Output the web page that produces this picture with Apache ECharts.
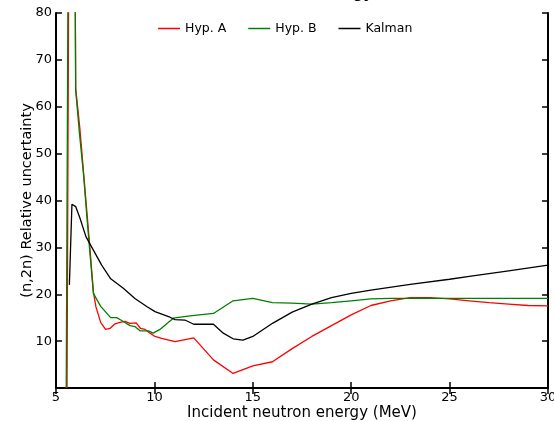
<!DOCTYPE html>
<html>
<head>
<meta charset="utf-8">
<script src="https://cdn.jsdelivr.net/npm/echarts@6/dist/echarts.min.js"></script>
<style>html,body{margin:0;padding:0;background:#fff}#c{width:554px;height:421px}</style>
</head>
<body>
<div id="c"></div>
<script>
const xTicks = [5, 10, 15, 20, 25, 30];
const yTicks = [10, 20, 30, 40, 50, 60, 70, 80];
const seriesNames = ['Hyp. A', 'Hyp. B', 'Kalman'];

const hypA = [[5.56,0],[5.8,250],[6.0,64],[6.22,55],[6.39,46.5],[6.56,38],[6.73,29.5],[6.9,20.5],[7.03,17.3],[7.27,14.0],[7.52,12.5],[7.74,12.7],[8.0,13.7],[8.25,14.0],[8.51,14.2],[8.76,13.8],[9.07,13.9],[9.3,12.7],[9.52,12.5],[9.78,11.7],[10.03,11.0],[10.37,10.6],[11.05,9.9],[12.0,10.7],[13.0,6.0],[14.0,3.1],[15.0,4.7],[16.0,5.6],[17.0,8.4],[18.0,11.0],[19.0,13.3],[20.0,15.6],[21.0,17.6],[22.0,18.6],[23.0,19.3],[24.0,19.3],[25.0,19.0],[26.0,18.6],[27.0,18.2],[28.0,17.9],[29.0,17.6],[30.0,17.5]];

const hypB = [[5.52,0],[5.78,250],[6.0,63.5],[6.2,54],[6.4,45.5],[6.56,37],[6.73,28.5],[6.9,20.2],[7.27,17.4],[7.78,15.0],[8.08,15.0],[8.34,14.4],[8.76,13.3],[9.01,13.1],[9.27,12.2],[9.69,12.2],[9.94,11.7],[10.28,12.5],[10.96,14.9],[11.8,15.4],[13.0,15.9],[14.0,18.6],[15.0,19.1],[16.0,18.2],[17.0,18.1],[18.0,17.9],[19.0,18.2],[20.0,18.6],[21.0,19.0],[22.0,19.1],[23.0,19.1],[24.0,19.1],[25.0,19.1],[26.0,19.1],[27.0,19.1],[28.0,19.1],[29.0,19.1],[30.0,19.1]];

const kalman = [[5.68,22],[5.81,39.2],[6.0,38.7],[6.22,36.2],[6.52,32.3],[6.9,29.4],[7.32,26.2],[7.78,23.3],[8.42,21.3],[9.01,19.1],[9.61,17.4],[10.03,16.3],[10.79,15.1],[11.05,14.6],[11.55,14.5],[12.0,13.6],[13.0,13.6],[13.5,11.7],[14.0,10.5],[14.5,10.2],[15.0,11.0],[16.0,13.8],[17.0,16.2],[18.0,17.9],[19.0,19.3],[20.0,20.2],[21.0,20.9],[23.0,22.1],[25.0,23.2],[26.0,23.8],[28.0,25.0],[30.0,26.2]];

const font = 'DejaVu Sans';
const chart = echarts.init(document.getElementById('c'), null, {renderer: 'canvas'});
const axisLine = {show: true, lineStyle: {color: '#000', width: 2}};
const tick = {show: true, inside: true, length: 6, lineStyle: {color: '#000', width: 1.5}};
chart.setOption({
  animation: false,
  backgroundColor: '#fff',
  title: {text: 'Incident Energy', left: 243, top: -18, textStyle: {fontFamily: font, fontSize: 14, fontWeight: 'bold', color: '#000'}},
  grid: {left: 56, right: 6, top: 13, bottom: 33, containLabel: false, outerBoundsMode: 'none'},
  legend: {
    data: seriesNames, left: 153, top: 17, itemWidth: 22, itemHeight: 1.5, itemGap: 22, icon: 'rect',
    textStyle: {fontFamily: font, fontSize: 12.5, color: '#000'}
  },
  xAxis: [{
    type: 'value', min: 5, max: 30, interval: 5, position: 'bottom',
    name: 'Incident neutron energy (MeV)', nameLocation: 'middle', nameGap: 18, nameMoveOverlap: false,
    nameTextStyle: {fontFamily: font, fontSize: 15, color: '#000'},
    axisLine: axisLine, axisTick: tick, splitLine: {show: false},
    axisLabel: {fontFamily: font, fontSize: 13, color: '#000', margin: 3, customValues: xTicks}
  }, {
    type: 'value', min: 5, max: 30, interval: 5, position: 'top',
    axisLine: axisLine, axisTick: tick, splitLine: {show: false}, axisLabel: {show: false}
  }],
  yAxis: [{
    type: 'value', min: 0, max: 80, interval: 10, position: 'left',
    name: '(n,2n) Relative uncertainty', nameLocation: 'middle', nameGap: 21, nameMoveOverlap: false,
    nameTextStyle: {fontFamily: font, fontSize: 14.5, color: '#000'},
    axisLine: axisLine, axisTick: tick, splitLine: {show: false},
    axisLabel: {fontFamily: font, fontSize: 13, color: '#000', margin: 4,
      formatter: v => yTicks.includes(v) ? String(v) : ''}
  }, {
    type: 'value', min: 0, max: 80, interval: 10, position: 'right',
    axisLine: axisLine, axisTick: tick, splitLine: {show: false}, axisLabel: {show: false}
  }],
  series: [
    {name: seriesNames[0], type: 'line', data: hypA, symbol: 'none', clip: true, lineStyle: {color: '#ff0000', width: 1.3}, itemStyle: {color: '#ff0000'}},
    {name: seriesNames[1], type: 'line', data: hypB, symbol: 'none', clip: true, lineStyle: {color: '#008000', width: 1.3}, itemStyle: {color: '#008000'}},
    {name: seriesNames[2], type: 'line', data: kalman, symbol: 'none', clip: true, lineStyle: {color: '#000000', width: 1.3}, itemStyle: {color: '#000000'}}
  ]
});
</script>
</body>
</html>
